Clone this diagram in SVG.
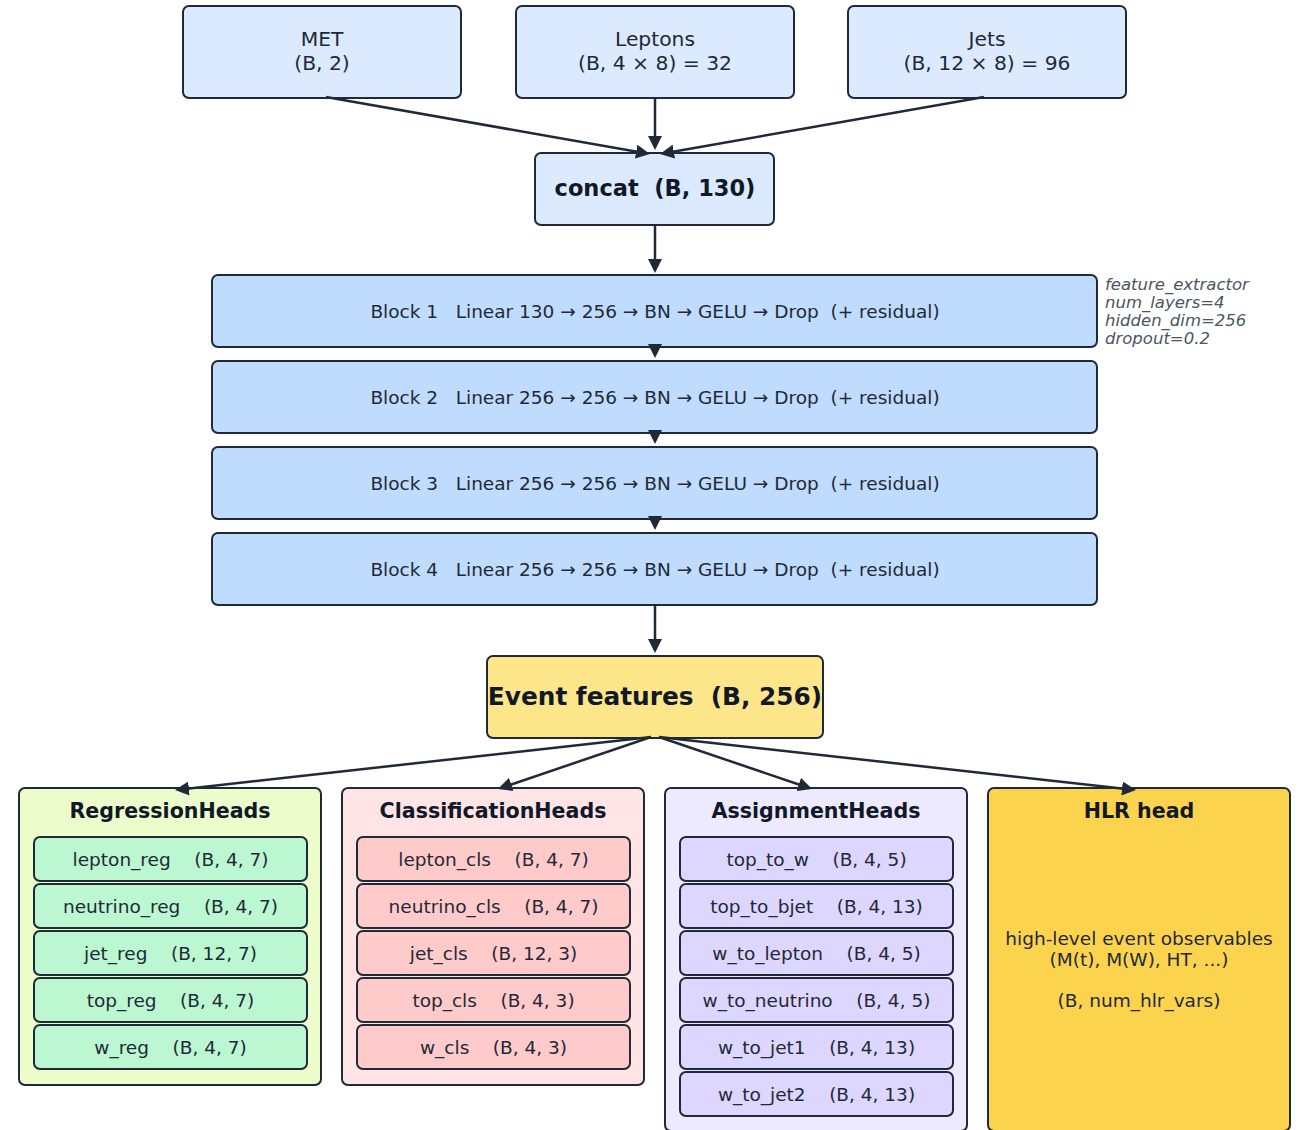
<svg xmlns="http://www.w3.org/2000/svg" width="1301" height="1130" viewBox="0 0 1301 1130">
  <style>
    text { font-family: "DejaVu Sans", "Liberation Sans", sans-serif; fill: #1f2937; text-anchor: middle; dominant-baseline: central; white-space: pre; }
    .box { stroke: #1f2937; stroke-width: 2; }
    .input { fill: #dbeafe; }
    .block { fill: #bfdbfe; }
    .event { fill: #fde68a; }
    .p-reg { fill: #ecfccb; }
    .p-cls { fill: #ffe4e6; }
    .p-asg { fill: #ede9fe; }
    .p-hlr { fill: #fcd34d; }
    .r-reg { fill: #bbf7d0; }
    .r-cls { fill: #fecaca; }
    .r-asg { fill: #ddd6fe; }
    .t-in { font-size: 20.3px; }
    .t-blk { font-size: 18.5px; }
    .t-row { font-size: 18.5px; }
    .t-title { font-size: 20.6px; font-weight: bold; fill: #111827; }
    .t-big { font-weight: bold; fill: #111827; }
    .t-note { font-size: 16.5px; font-style: italic; fill: #4b5563; text-anchor: start; }
    .conn { stroke: #1f2937; stroke-width: 2.5; fill: none; marker-end: url(#arrow); }
  </style>
  <defs>
    <marker id="arrow" viewBox="0 0 14 14" markerWidth="14" markerHeight="14" refX="11" refY="7" orient="auto" markerUnits="userSpaceOnUse">
      <path d="M0,0 L14,7 L0,14 z" fill="#1f2937"/>
    </marker>
  </defs>

  <rect width="1301" height="1130" fill="#ffffff"/>

  <!-- inputs -->
  <g id="met">
    <rect class="box input" x="183" y="6" width="278" height="92" rx="6"/>
    <text class="t-in" x="322" y="39">MET</text>
    <text class="t-in" x="322" y="63">(B, 2)</text>
  </g>
  <g id="leptons">
    <rect class="box input" x="516" y="6" width="278" height="92" rx="6"/>
    <text class="t-in" x="655" y="39">Leptons</text>
    <text class="t-in" x="655" y="63">(B, 4 × 8) = 32</text>
  </g>
  <g id="jets">
    <rect class="box input" x="848" y="6" width="278" height="92" rx="6"/>
    <text class="t-in" x="987" y="39">Jets</text>
    <text class="t-in" x="987" y="63">(B, 12 × 8) = 96</text>
  </g>

  <g id="concat">
    <rect class="box input" x="535" y="153" width="239" height="72" rx="6"/>
    <text class="t-big" x="655" y="188" style="font-size:22.5px">concat  (B, 130)</text>
  </g>

  <!-- feature extractor blocks -->
  <g id="block1">
    <rect class="box block" x="212" y="275" width="885" height="72" rx="6"/>
    <text class="t-blk" x="655" y="311">Block 1   Linear 130 → 256 → BN → GELU → Drop  (+ residual)</text>
  </g>
  <g id="block2">
    <rect class="box block" x="212" y="361" width="885" height="72" rx="6"/>
    <text class="t-blk" x="655" y="397">Block 2   Linear 256 → 256 → BN → GELU → Drop  (+ residual)</text>
  </g>
  <g id="block3">
    <rect class="box block" x="212" y="447" width="885" height="72" rx="6"/>
    <text class="t-blk" x="655" y="483">Block 3   Linear 256 → 256 → BN → GELU → Drop  (+ residual)</text>
  </g>
  <g id="block4">
    <rect class="box block" x="212" y="533" width="885" height="72" rx="6"/>
    <text class="t-blk" x="655" y="569">Block 4   Linear 256 → 256 → BN → GELU → Drop  (+ residual)</text>
  </g>
  <g id="extractor-note">
    <text class="t-note" x="1105" y="284">feature_extractor</text>
    <text class="t-note" x="1105" y="302">num_layers=4</text>
    <text class="t-note" x="1105" y="320">hidden_dim=256</text>
    <text class="t-note" x="1105" y="338">dropout=0.2</text>
  </g>

  <g id="event-features">
    <rect class="box event" x="487" y="656" width="336" height="82" rx="6"/>
    <text class="t-big" x="655" y="696" style="font-size:24.8px">Event features  (B, 256)</text>
  </g>

  <!-- heads -->
  <g id="regression-heads">
    <rect class="box p-reg" x="19" y="788" width="302" height="297" rx="6"/>
    <text class="t-title" x="170" y="811">RegressionHeads</text>
    <rect class="box r-reg" x="34" y="837" width="273" height="44" rx="6"/>
    <text class="t-row" x="170.5" y="859">lepton_reg    (B, 4, 7)</text>
    <rect class="box r-reg" x="34" y="884" width="273" height="44" rx="6"/>
    <text class="t-row" x="170.5" y="906">neutrino_reg    (B, 4, 7)</text>
    <rect class="box r-reg" x="34" y="931" width="273" height="44" rx="6"/>
    <text class="t-row" x="170.5" y="953">jet_reg    (B, 12, 7)</text>
    <rect class="box r-reg" x="34" y="978" width="273" height="44" rx="6"/>
    <text class="t-row" x="170.5" y="1000">top_reg    (B, 4, 7)</text>
    <rect class="box r-reg" x="34" y="1025" width="273" height="44" rx="6"/>
    <text class="t-row" x="170.5" y="1047">w_reg    (B, 4, 7)</text>
  </g>

  <g id="classification-heads">
    <rect class="box p-cls" x="342" y="788" width="302" height="297" rx="6"/>
    <text class="t-title" x="493" y="811">ClassificationHeads</text>
    <rect class="box r-cls" x="357" y="837" width="273" height="44" rx="6"/>
    <text class="t-row" x="493.5" y="859">lepton_cls    (B, 4, 7)</text>
    <rect class="box r-cls" x="357" y="884" width="273" height="44" rx="6"/>
    <text class="t-row" x="493.5" y="906">neutrino_cls    (B, 4, 7)</text>
    <rect class="box r-cls" x="357" y="931" width="273" height="44" rx="6"/>
    <text class="t-row" x="493.5" y="953">jet_cls    (B, 12, 3)</text>
    <rect class="box r-cls" x="357" y="978" width="273" height="44" rx="6"/>
    <text class="t-row" x="493.5" y="1000">top_cls    (B, 4, 3)</text>
    <rect class="box r-cls" x="357" y="1025" width="273" height="44" rx="6"/>
    <text class="t-row" x="493.5" y="1047">w_cls    (B, 4, 3)</text>
  </g>

  <g id="assignment-heads">
    <rect class="box p-asg" x="665" y="788" width="302" height="343" rx="6"/>
    <text class="t-title" x="816" y="811">AssignmentHeads</text>
    <rect class="box r-asg" x="680" y="837" width="273" height="44" rx="6"/>
    <text class="t-row" x="816.5" y="859">top_to_w    (B, 4, 5)</text>
    <rect class="box r-asg" x="680" y="884" width="273" height="44" rx="6"/>
    <text class="t-row" x="816.5" y="906">top_to_bjet    (B, 4, 13)</text>
    <rect class="box r-asg" x="680" y="931" width="273" height="44" rx="6"/>
    <text class="t-row" x="816.5" y="953">w_to_lepton    (B, 4, 5)</text>
    <rect class="box r-asg" x="680" y="978" width="273" height="44" rx="6"/>
    <text class="t-row" x="816.5" y="1000">w_to_neutrino    (B, 4, 5)</text>
    <rect class="box r-asg" x="680" y="1025" width="273" height="44" rx="6"/>
    <text class="t-row" x="816.5" y="1047">w_to_jet1    (B, 4, 13)</text>
    <rect class="box r-asg" x="680" y="1072" width="273" height="44" rx="6"/>
    <text class="t-row" x="816.5" y="1094">w_to_jet2    (B, 4, 13)</text>
  </g>

  <g id="hlr-head">
    <rect class="box p-hlr" x="988" y="788" width="302" height="343" rx="6"/>
    <text class="t-title" x="1139" y="811">HLR head</text>
    <text class="t-row" x="1139" y="938">high-level event observables</text>
    <text class="t-row" x="1139" y="959">(M(t), M(W), HT, ...)</text>
    <text class="t-row" x="1139" y="1000">(B, num_hlr_vars)</text>
  </g>

  <!-- connectors -->
  <g id="connectors">
    <line class="conn" x1="326" y1="97" x2="647" y2="153.5"/>
    <line class="conn" x1="655" y1="98" x2="655" y2="147"/>
    <line class="conn" x1="984" y1="97" x2="663" y2="153.5"/>
    <line class="conn" x1="655" y1="225" x2="655" y2="270"/>
    <line class="conn" x1="655" y1="347" x2="655" y2="355"/>
    <line class="conn" x1="655" y1="433" x2="655" y2="441"/>
    <line class="conn" x1="655" y1="519" x2="655" y2="527"/>
    <line class="conn" x1="655" y1="605" x2="655" y2="650"/>
    <line class="conn" x1="651" y1="737" x2="178" y2="789.7"/>
    <line class="conn" x1="651" y1="737" x2="500.8" y2="788"/>
    <line class="conn" x1="659" y1="737" x2="809.2" y2="788"/>
    <line class="conn" x1="659" y1="737" x2="1133" y2="789.7"/>
  </g>
</svg>
